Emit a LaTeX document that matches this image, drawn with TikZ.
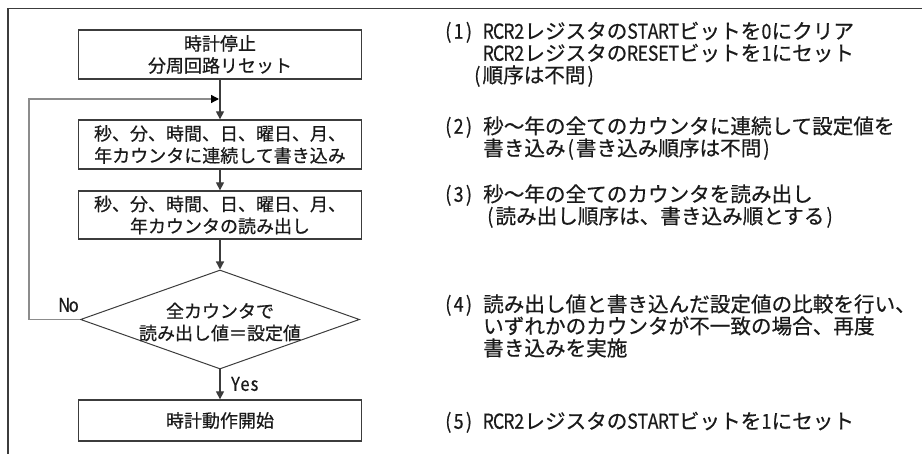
\documentclass[tikz,border=0pt]{standalone}
\usepackage{fontspec}
\usepackage{graphicx}
\setmainfont{Noto Sans CJK JP}[FakeBold=0.6]
\usetikzlibrary{arrows.meta,shapes.geometric}
\definecolor{ln}{HTML}{3C3C3C}
\definecolor{txt}{HTML}{1A1A1A}
\definecolor{loopc}{HTML}{8C8C8C}
% half-width, condensed Latin character
\newcommand\hwc[1]{\makebox[0.5em]{\scalebox{0.86}[1]{#1}}}
\newcommand\hws[1]{\hwcloop#1\relax}
\def\hwcloop#1{\ifx#1\relax\else\hwc{#1}\expandafter\hwcloop\fi}
\begin{document}
\begin{tikzpicture}[x=1pt,y=-1pt,
  box/.style={draw=ln, line width=1.3pt, minimum width=283pt, inner sep=0pt, align=center,
              font=\fontsize{18}{22}\selectfont, text=txt},
  decshape/.style={diamond, draw=ln, line width=1pt, minimum width=279pt, minimum height=99pt, inner sep=0pt},
  dectext/.style={align=center, inner sep=0pt, font=\fontsize{18}{22}\selectfont, text=txt},
  flow/.style={draw=ln, line width=1.3pt, -{Triangle[length=8pt,width=8pt]}},
  loopline/.style={draw=loopc, line width=1.3pt, -{Triangle[length=8pt,width=8pt,color=black]}},
  lbl/.style={inner sep=0pt, font=\fontsize{19}{22}\selectfont, text=txt},
  rtext/.style={anchor=west, inner sep=0pt, font=\fontsize{20.6}{22}\selectfont, text=txt,
                text height=18pt, text depth=2.5pt},
  frame/.style={draw=ln, line width=1.5pt}]
\useasboundingbox (0,0) rectangle (922,454);
% frame
\coordinate (fbl) at (8,454);
\coordinate (ftl) at (8,8.5);
\coordinate (ftr) at (922,8.5);
\draw[frame] (fbl) -- (ftl) -- (ftr);
% flow chart
\node[box, minimum height=49pt] (b1) at (220,54.5) {時計停止\\分周回路リセット};
\node[box, minimum height=49pt] (b2) at (220,144.5) {秒、分、時間、日、曜日、月、\\年カウンタに連続して書き込み};
\node[box, minimum height=48pt] (b3) at (220,215) {秒、分、時間、日、曜日、月、\\年カウンタの読み出し};
\node[decshape] (dia) at (220,319.5) {};
\node[dectext] (dt) at (220,322) {全カウンタで\\読み出し値＝設定値};
\node[box, minimum height=41pt] (b4) at (220,420.5) {時計動作開始};
\coordinate (join) at (219,99);
\coordinate (lc) at (29,319.5);
\draw[flow] (b1) -- (b2);
\draw[flow] (b2) -- (b3);
\draw[flow] (b3) -- (dia.north);
\draw[flow] (dia.south) -- (b4);
\draw[loopline] (dia.west) -- (lc) |- (join);
\node[lbl] (no) at (69,305) {\hws{No}};
\node[lbl] (yes) at (245,384) {\hws{Yes}};
% right-hand notes
\node[rtext] (n1) at (443,31) {\hws{(1)}};
\node[rtext] (n1a) at (483,31) {\hws{RCR2}レジスタの\hws{START}ビットを\hwc{0}にクリア};
\node[rtext] (n1b) at (483,53) {\hws{RCR2}レジスタの\hws{RESET}ビットを\hwc{1}にセット};
\node[rtext] (n1c) at (472,75) {\hwc{(}順序は不問\hwc{)}};
\node[rtext] (n2) at (443,126) {\hws{(2)}};
\node[rtext] (n2a) at (483,126) {秒～年の全てのカウンタに連続して設定値を};
\node[rtext] (n2b) at (483,148) {書き込み\hwc{(}書き込み順序は不問\hwc{)}};
\node[rtext] (n3) at (443,194) {\hws{(3)}};
\node[rtext] (n3a) at (483,194) {秒～年の全てのカウンタを読み出し};
\node[rtext] (n3b) at (485,216) {\hwc{(}読み出し順序は、書き込み順とする\hwc{)}};
\node[rtext] (n4) at (443,304) {\hws{(4)}};
\node[rtext] (n4a) at (483,304) {読み出し値と書き込んだ設定値の比較を行い、};
\node[rtext] (n4b) at (483,326) {いずれかのカウンタが不一致の場合、再度};
\node[rtext] (n4c) at (483,348) {書き込みを実施};
\node[rtext] (n5) at (443,421) {\hws{(5)}};
\node[rtext] (n5a) at (483,421) {\hws{RCR2}レジスタの\hws{START}ビットを\hwc{1}にセット};
\end{tikzpicture}
\end{document}
